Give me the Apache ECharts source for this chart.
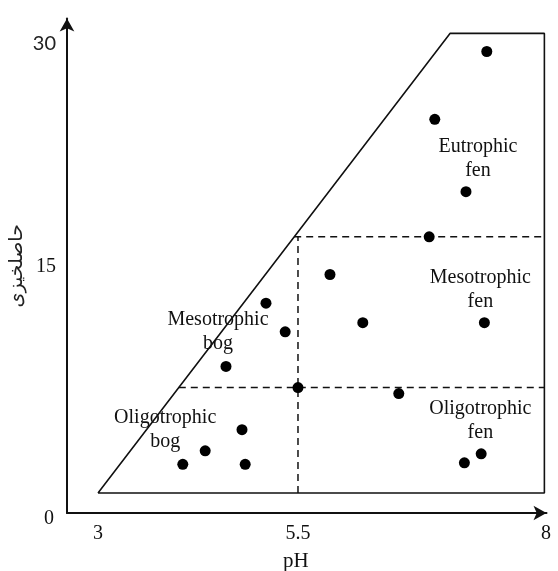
<!DOCTYPE html>
<html><head><meta charset="utf-8">
<script src="https://cdn.jsdelivr.net/npm/echarts@6/dist/echarts.min.js"></script>
<style>html,body{margin:0;padding:0;background:#fff}#c{width:558px;height:571px}</style>
</head><body><div id="c"></div>
<script>
// Sample points: pH and fertility (حاصلخیزی)
const phValues        = [7.86, 7.21, 7.60, 7.14, 5.90, 5.10, 5.34, 6.31, 7.83, 4.60, 5.50, 6.76, 4.80, 4.34, 4.06, 4.84, 7.58, 7.79];
const fertilityValues = [29.3, 24.8, 20.0, 17.0, 14.5, 12.6, 10.7, 11.3, 11.3, 8.4, 7.0, 6.6, 4.2, 2.8, 1.9, 1.9, 2.0, 2.6];

// Outer boundary polygon of the diagram
const boundaryPh        = [3, 7.4, 8.58, 8.58, 3];
const boundaryFertility = [0, 30.5, 30.5, 0, 0];

// Class boundaries
const bogFenPh = 5.5;
const oligoMesoFertility = 7;
const mesoEuFertility = 17;

// Region names and their anchor points
const regionNames     = ['Eutrophic\nfen', 'Mesotrophic\nfen', 'Oligotrophic\nfen', 'Mesotrophic\nbog', 'Oligotrophic\nbog'];
const regionPh        = [7.75, 7.78, 7.78, 4.5, 3.84];
const regionFertility = [22.2, 13.5, 4.8, 10.7, 4.2];

// Tick labels
const xTickValues = [3, 5.5, 8.6];
const xTickLabels = ['3', '5.5', '8'];
const yTickValues = [-1.327, 15, 30];
const yTickLabels = ['0', '15', '30'];

// Diagonal edge: x at given fertility
function diagPh(f) {
  return boundaryPh[0] + (f - boundaryFertility[0]) * (boundaryPh[1] - boundaryPh[0]) / (boundaryFertility[1] - boundaryFertility[0]);
}
const rightPh = boundaryPh[2];

const serif = '"Liberation Serif", "Times New Roman", serif';
const chart = echarts.init(document.getElementById('c'), null, {renderer: 'canvas'});
const dashed = {color: '#111', width: 1.5, type: [7, 5]};

chart.setOption({
  backgroundColor: '#fff',
  animation: false,
  grid: {left: 67, right: 11.5, top: 18.5, bottom: 58, outerBoundsMode: 'none', containLabel: false},
  xAxis: {
    type: 'value', min: 2.6125, max: 8.6065,
    name: 'pH', nameLocation: 'middle', nameGap: 38, nameMoveOverlap: false,
    nameTextStyle: {fontFamily: serif, fontSize: 21, color: '#111', padding: [0, 22, 0, 0]},
    axisLine: {show: true, onZero: false, symbol: ['none', 'arrow'], symbolSize: [11, 13], lineStyle: {color: '#111', width: 2}},
    axisTick: {show: false},
    splitLine: {show: false},
    axisLabel: {
      customValues: xTickValues, margin: 11,
      fontFamily: serif, fontSize: 20, color: '#111',
      formatter: v => { const i = xTickValues.findIndex(t => Math.abs(t - v) < 1e-6); return i >= 0 ? xTickLabels[i] : ''; }
    }
  },
  yAxis: {
    type: 'value', min: -1.327, max: 31.49,
    name: 'حاصلخیزی', nameLocation: 'middle', nameGap: 40, nameRotate: 90, nameMoveOverlap: false,
    nameTextStyle: {fontFamily: '"DejaVu Sans", sans-serif', fontSize: 19, color: '#222'},
    axisLine: {show: true, onZero: false, symbol: ['none', 'arrow'], symbolSize: [11, 13], lineStyle: {color: '#111', width: 2}},
    axisTick: {show: false},
    splitLine: {show: false},
    axisLabel: {
      customValues: yTickValues, margin: 11,
      fontFamily: serif, fontSize: 20, color: '#111',
      formatter: v => {
        const i = yTickValues.findIndex(t => Math.abs(t - v) < 1e-6);
        if (i < 0) return '';
        if (i === 0) return '{z|' + yTickLabels[i] + '}';
        if (i === yTickLabels.length - 1) return '{s|' + yTickLabels[i] + '}';
        return yTickLabels[i];
      },
      rich: {
        z: {fontFamily: serif, fontSize: 20, color: '#111', padding: [12, 2, 0, 0]},
        s: {fontFamily: 'Lato, "Open Sans", sans-serif', fontSize: 20, color: '#222', padding: [6, 0, 0, 0]}
      }
    }
  },
  series: [
    {
      type: 'line', symbol: 'none', silent: true,
      data: boundaryPh.map((x, i) => [x, boundaryFertility[i]]),
      lineStyle: {color: '#111', width: 1.6}
    },
    {
      type: 'line', symbol: 'none', silent: true,
      data: [[diagPh(mesoEuFertility), mesoEuFertility], [rightPh, mesoEuFertility]],
      lineStyle: dashed
    },
    {
      type: 'line', symbol: 'none', silent: true,
      data: [[diagPh(oligoMesoFertility), oligoMesoFertility], [rightPh, oligoMesoFertility]],
      lineStyle: dashed
    },
    {
      type: 'line', symbol: 'none', silent: true,
      data: [[bogFenPh, 0], [bogFenPh, mesoEuFertility]],
      lineStyle: dashed
    },
    {
      type: 'scatter', symbol: 'circle', symbolSize: 11, z: 5,
      itemStyle: {color: '#000', opacity: 1},
      data: phValues.map((x, i) => [x, fertilityValues[i]])
    },
    {
      type: 'scatter', symbolSize: 0, silent: true, z: 6,
      itemStyle: {opacity: 1},
      data: regionNames.map((n, i) => ({value: [regionPh[i], regionFertility[i]], name: n})),
      label: {
        show: true, position: 'inside', formatter: p => p.name, opacity: 1,
        fontFamily: serif, fontSize: 20, lineHeight: 24, color: '#111', align: 'center'
      }
    }
  ]
});
</script>
</body></html>
